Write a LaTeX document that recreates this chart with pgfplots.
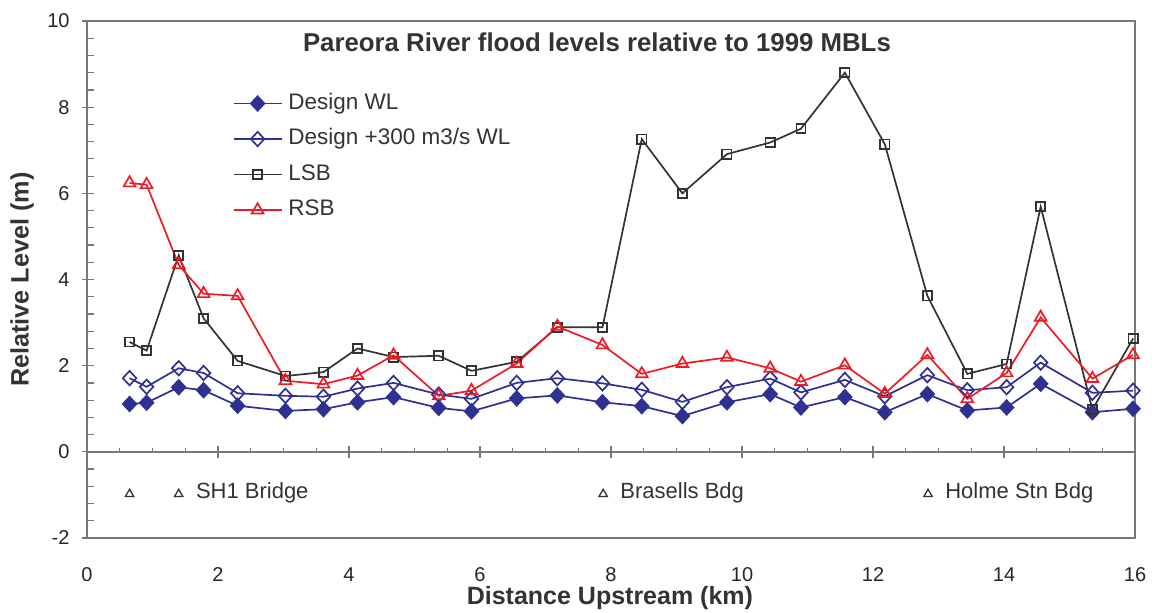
\documentclass[border=0pt]{standalone}
\usepackage{fontspec}
\setmainfont{Liberation Sans}
\usepackage{pgfplots}
\usepackage{pgfplotstable}
\pgfplotsset{compat=1.18}
\definecolor{dblue}{RGB}{46,49,146}
\definecolor{rred}{RGB}{237,28,36}
\definecolor{dgray}{RGB}{51,51,51}
\definecolor{framec}{RGB}{120,120,120}

\pgfplotstableread{
x     dwl   dtr   lsb   rsb
0.65  1.11  1.71  2.55  6.24
0.91  1.14  1.51  2.35  6.20
1.40  1.50  1.94  4.56  4.34
1.78  1.43  1.83  3.10  3.67
2.30  1.07  1.36  2.11  3.62
3.03  0.95  1.30  1.76  1.65
3.61  0.99  1.28  1.85  1.57
4.13  1.15  1.47  2.40  1.77
4.68  1.27  1.60  2.20  2.24
5.37  1.02  1.33  2.23  1.30
5.87  0.94  1.23  1.88  1.42
6.56  1.24  1.60  2.09  2.05
7.18  1.31  1.71  2.89  2.91
7.87  1.15  1.59  2.89  2.48
8.47  1.06  1.44  7.26  1.81
9.09  0.83  1.16  6.00  2.05
9.77  1.15  1.50  6.91  2.19
10.43 1.34  1.70  7.18  1.94
10.90 1.03  1.38  7.50  1.63
11.57 1.27  1.67  8.80  2.01
12.18 0.92  1.29  7.14  1.35
12.83 1.34  1.78  3.62  2.25
13.44 0.96  1.43  1.81  1.23
14.04 1.03  1.50  2.04  1.83
14.56 1.58  2.07  5.69  3.12
15.35 0.92  1.37  0.98  1.70
15.97 1.00  1.42  2.63  2.25
}\datatable

\begin{document}
\begin{tikzpicture}
\useasboundingbox (-43.5pt,-37pt) rectangle (534pt,269pt);
\begin{axis}[
  at={(0,0)}, anchor=south west,
  scale only axis, width=524pt, height=258.5pt,
  xmin=0, xmax=16, ymin=-2, ymax=10,
  clip=false,
  xtick={0,2,...,16},
  xtick style={draw=none},
  ytick={-2,0,...,10},
  minor y tick num=4,
  ytick pos=left,
  tick align=inside,
  major tick length=6pt,
  minor tick length=3.3pt,
  major tick style={xshift=-2.5pt},
  ytick style={draw=framec, line width=0.6pt},
  axis line style={draw=framec, line width=0.7pt},
  /pgf/number format/assume math mode=true,
  yticklabel style={font=\fontsize{10}{12}\selectfont, text=black!85, xshift=-5.2pt},
  xticklabel style={font=\fontsize{10}{12}\selectfont, text=black!85, yshift=-11.2pt},
  ylabel={Relative Level (m)},
  ylabel style={at={(axis description cs:-0.062,0.5)}, anchor=center, font=\bfseries\fontsize{12.6}{15}\selectfont, text=dgray},
  xlabel={Distance Upstream (km)},
  xlabel style={at={(axis description cs:0.499,0)}, anchor=center, yshift=-30pt, font=\bfseries\fontsize{12.5}{15}\selectfont, text=dgray},
  legend image code/.code={\draw[mark repeat=2,mark phase=2,#1] plot coordinates {(0pt,0pt) (12pt,0pt) (24pt,0pt)};},
  legend style={at={(axis description cs:0.1387,0.8615)}, anchor=north west, draw=none, fill=none, inner sep=0pt,
    font=\fontsize{11.25}{13}\selectfont, text=dgray,
    nodes={inner sep=0pt, text height=8.1pt, text depth=2.4pt},
    row sep=7.25pt, column sep=3pt},
  legend cell align=left,
]
\addplot[draw=dblue, line width=0.85pt, mark=diamond*, mark size=3.6pt, mark options={xscale=1.25, solid, draw=dblue, fill=dblue}] table[x=x, y=dwl] {\datatable};
\addlegendentry{Design WL}
\addplot[draw=dblue, line width=0.85pt, mark=diamond, mark size=3.6pt, mark options={xscale=1.25, solid, draw=dblue, fill=white}] table[x=x, y=dtr] {\datatable};
\addlegendentry{Design +300 m3/s WL}
\addplot[dgray, line width=0.85pt, mark=square, mark size=2.3pt, mark options={solid}] table[x=x, y=lsb] {\datatable};
\addlegendentry{LSB}
\addplot[rred, line width=0.85pt, mark=triangle, mark size=3.4pt, mark options={solid}] table[x=x, y=rsb] {\datatable};
\addlegendentry{RSB}
\addplot[forget plot, only marks, mark=triangle, mark size=2.4pt, dgray, line width=0.65pt,
  point meta=explicit symbolic, nodes near coords,
  nodes near coords style={anchor=west, xshift=5pt, yshift=0.5pt, font=\fontsize{11}{13}\selectfont, text=dgray}]
  coordinates {(0.65,-0.98)[] (1.40,-0.98)[SH1 Bridge] (7.88,-0.98)[Brasells Bdg] (12.84,-0.98)[Holme Stn Bdg]};
\node[font=\bfseries\fontsize{12.9}{15}\selectfont, text=dgray] at (axis description cs:0.4866,0.959) {Pareora River flood levels relative to 1999 MBLs};
\end{axis}
\begin{axis}[
  at={(0,0)}, anchor=south west,
  scale only axis, width=524pt, height=258.5pt,
  xmin=0, xmax=16, ymin=-2, ymax=10,
  axis x line=middle, axis y line=none,
  axis line style={-, draw=framec, line width=0.7pt},
  xtick={0,2,...,16}, minor x tick num=3,
  xticklabels={}, ytick=\empty,
  tick align=center,
  major tick length=6pt, minor tick length=2pt,
  minor tick style={yshift=1pt},
  tick style={draw=framec, line width=0.6pt},
]
\end{axis}
\end{tikzpicture}
\end{document}
